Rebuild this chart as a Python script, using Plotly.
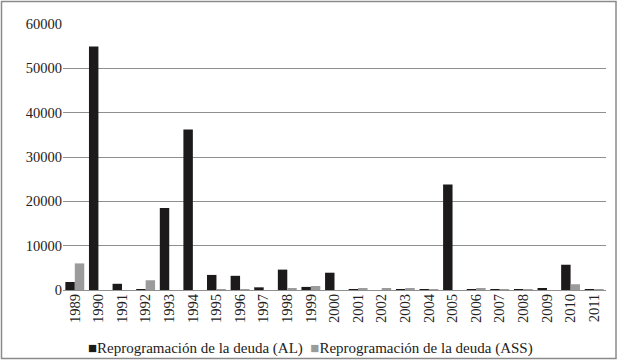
import plotly.graph_objects as go

years = [str(y) for y in range(1989, 2012)]
al = [1800, 54900, 1400, 200, 18500, 36200, 3400, 3200, 600, 4600, 700,
      3900, 200, 0, 150, 200, 23800, 100, 50, 100, 300, 5700, 200]
ass = [6000, 0, 0, 2200, 0, 0, 100, 100, 0, 400, 900,
       0, 300, 400, 300, 200, 0, 300, 50, 200, 0, 1300, 100]
y_ticks = [0, 10000, 20000, 30000, 40000, 50000, 60000]
names = ["Reprogramación de la deuda (AL)", "Reprogramación de la deuda (ASS)"]
colors = ["#1c1a1b", "#9b9b9b"]

W, H = 618, 361
L, R, T, B = 63, 606, 24, 290

fig = go.Figure()
fig.add_bar(x=years, y=al, name=names[0],
            marker=dict(color=colors[0], line=dict(width=0)))
fig.add_bar(x=years, y=ass, name=names[1],
            marker=dict(color=colors[1], line=dict(width=0)))

pw, ph = R - L, B - T
fig.add_shape(type="rect", xref="paper", yref="paper",
              x0=(1.5 - L) / pw, x1=(616 - L) / pw,
              y0=(B - 358.5) / ph, y1=(B - 1.5) / ph,
              line=dict(color="#8a8a8a", width=1.5), fillcolor="rgba(0,0,0,0)",
              layer="below")

legend_text = (f'<span style="color:{colors[0]}">■</span>{names[0]}  '
               f'<span style="color:{colors[1]}">■</span>{names[1]}')
fig.add_annotation(text=legend_text, xref="paper", yref="paper",
                   x=(310 - L) / pw, y=(B - 348) / ph, xanchor="center",
                   yanchor="middle", showarrow=False,
                   font=dict(family="Liberation Serif", size=15, color="#222"))

fig.update_layout(
    width=W, height=H,
    margin=dict(l=L, r=W - R, t=T, b=H - B, autoexpand=False),
    paper_bgcolor="white", plot_bgcolor="white",
    barmode="group", bargap=0.2, bargroupgap=0,
    font=dict(family="Liberation Serif", size=14.5, color="#222"),
    showlegend=False,
    xaxis=dict(type="category", tickangle=-90, showgrid=False, ticks="",
               showline=False, automargin=False, tickfont=dict(size=14.5)),
    yaxis=dict(range=[0, 60000], tickvals=y_ticks, tickformat="d",
               showgrid=True, gridcolor="#8f8f8f", gridwidth=1, zeroline=True,
               zerolinecolor="#8f8f8f", zerolinewidth=1, ticks="",
               showline=False, automargin=False, tickfont=dict(size=14.5)),
)

fig.write_html("out.html", config={"displayModeBar": False},
               post_script="document.body.style.margin='0';")
